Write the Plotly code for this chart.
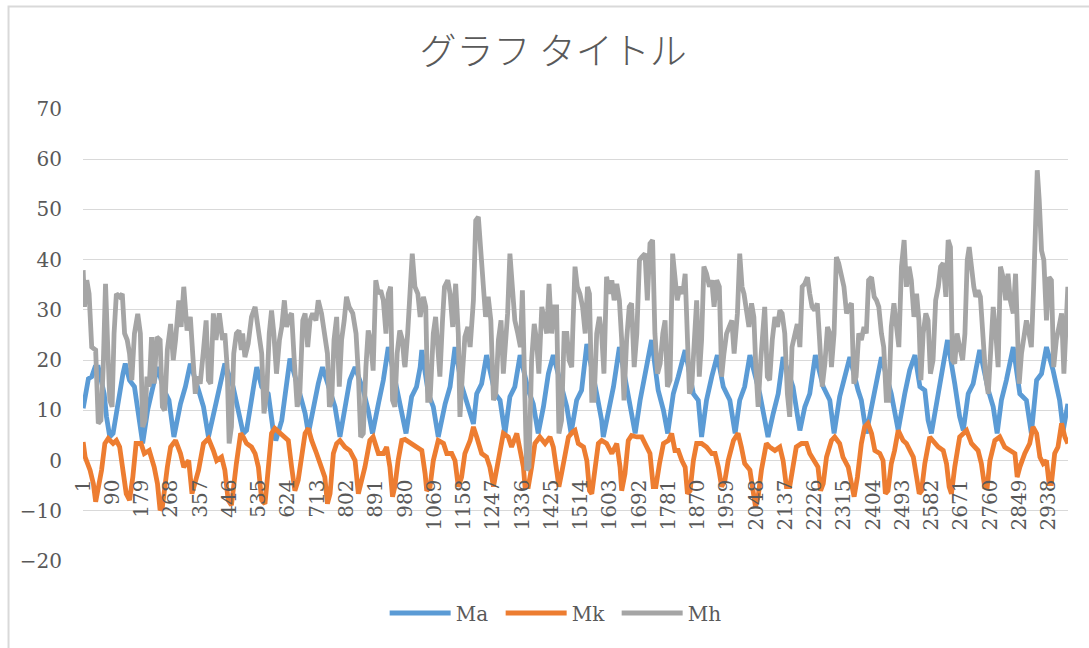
import plotly.graph_objects as go

# Series values as (row number, value) pairs
MA = [(1,10.4),(8,13),(17,16.3),(27,16.7),(37,18.6),(47,18.6),(65,13.3),(72,8.7),(82,4.7),(92,5.4),(102,9.4),(112,14.7),(122,17.3),(129,19.3),(142,16),(157,14.7),(172,8),(182,3.4),(197,10),(212,14),(227,18.6),(247,14),(262,12),(277,4.7),(297,11.3),(312,14.7),(327,19.3),(352,14),(367,10.7),(382,4.7),(402,10.7),(417,15.3),(432,19.3),(457,14.7),(472,10),
      (488,5.4),(498,6),(513,12),(524,16.7),(529,18.6),(544,14.7),(564,13.3),(579,6),(587,4),(605,8),(615,13.3),(625,18),(630,20.3),(660,13.3),(676,9.4),(686,5.4),(701,10.7),(716,15.3),(729,18.6),(752,14),(767,10.7),(782,4.7),(797,10.7),(812,16),(828,18.6),(853,14),(868,10),(881,5.4),(899,11.3),(914,16),(929,22.6),(954,14.7),(970,10),(983,5.4),
      (1000,12.7),(1015,14.7),(1026,18.6),(1031,22),(1051,13.3),(1066,10.7),(1081,4.7),(1102,11.3),(1117,14.7),(1132,22.6),(1152,15),(1167,12),(1188,7.3),(1198,13.3),(1213,15.3),(1228,21),(1254,13.3),(1269,12),(1284,5.4),(1299,12.7),(1314,14.7),(1330,21),(1355,14),(1370,11.3),(1385,5.4),(1401,10.7),(1416,17.3),(1431,21),(1456,14.7),(1472,10.7),(1485,5.4),
      (1502,12),(1517,14),(1533,23.2),(1563,13.3),(1578,8),(1583,4.7),(1599,9.4),(1614,14.7),(1632,22.6),(1659,13.3),(1669,10),(1680,5.4),(1695,12),(1715,18.6),(1730,24),(1750,14),(1766,10),(1779,5.4),(1796,13.3),(1811,16.7),(1832,22),(1857,13.3),(1872,12),(1882,4.7),(1897,12),(1913,16.7),(1930,21),(1948,14.7),(1968,12),(1984,5.4),
      (1998,12),(2013,14.7),(2029,21),(2059,13.3),(2074,8),(2084,4.7),(2100,9.4),(2115,13.3),(2130,20.6),(2160,14.7),(2176,8),(2181,6),(2196,10.7),(2211,13.3),(2228,21),(2252,14.7),(2272,12),(2285,5.4),(2302,12.7),(2317,16.7),(2333,20.6),(2358,14),(2368,12),(2383,5.4),(2399,10.7),(2414,16),(2429,20.6),(2459,13.3),(2469,9.4),(2480,6),
      (2500,13.3),(2515,18),(2531,21),(2546,14.7),(2561,14),(2571,8),(2581,5.4),(2596,10.7),(2612,17.3),(2630,24),(2652,15.3),(2667,8.7),(2678,6),(2693,13.3),(2708,15.3),(2728,22),(2754,14),(2769,10.7),(2781,5.4),(2794,12),(2809,16),(2830,22.6),(2850,13.3),(2870,12),(2885,5.4),(2901,16),(2916,17.3),(2931,22.6),(2951,18),(2971,12),(2982,6),(2996,11.3)]

MK = [(1,3.7),(7,0.7),(22,-1.9),(32,-4.6),(39,-8.2),(47,-5.2),(57,-1.9),(67,3.4),(77,4.4),(92,3.4),(102,4),(112,2.7),(122,-2.6),(132,-6.6),(142,-7.9),(152,-3.3),(162,3.4),(172,3.4),(177,3.4),(187,1.4),(202,2),(217,-1.3),(227,-4.6),(235,-9.9),(242,-9.2),(257,-1.3),(267,2.7),(282,4),(297,1.4),(307,-1.3),(322,0),(332,-6.6),(342,-3.9),(352,-1.9),(367,3.4),(382,4.4),(397,2),(407,0),(422,0.7),(432,-1.9),(442,-7.9),(452,-8.9),(467,-0.6),(477,4.7),
      (480,5.4),(488,4.7),(498,3.4),(513,2.7),(524,1.4),(534,-1.3),(544,-7.9),(554,-8.6),(564,-2.6),(574,5.4),(584,6.4),(600,5.4),(615,4.7),(625,4),(635,-1.3),(645,-6),(655,-3.9),(665,1.4),(676,5.4),(686,6.4),(696,4),(711,1.4),(726,-1.3),(736,-3.3),(744,-8.6),(752,-6.6),(762,1.4),(772,3.4),(782,4),(797,2.7),(812,2),(828,0),(838,-6.6),(848,-3.9),(858,-1.3),(873,4),(883,4.7),(899,1.4),(914,1.4),(924,2.7),(934,-1.3),(942,-7.2),(949,-5.2),(959,0),(970,4),(980,4.2),
      (1000,3.4),(1015,2.7),(1031,2),(1041,-2.6),(1046,-6),(1056,-5.2),(1066,0),(1081,4),(1097,3.4),(1107,1.4),(1122,1.4),(1132,0),(1142,-5.2),(1152,-3.3),(1162,1.4),(1178,4),(1188,6.7),(1198,4.7),(1213,1.4),(1228,0.7),(1238,-1.3),(1249,-5.2),(1259,-1.3),(1269,2.7),(1279,5.4),(1294,4.7),(1304,2.7),(1320,5.4),(1330,2),(1340,-1.3),(1345,-5.2),(1355,-5.2),(1365,-1.3),(1375,3.4),(1390,4.7),(1406,3.4),(1421,4.7),(1431,2.7),(1441,-1.9),(1448,-5.2),(1456,-2.6),(1466,1.4),(1477,4.7),
      (1490,5.7),(1497,6),(1507,3.4),(1523,2.7),(1533,0),(1541,-6),(1548,-6.6),(1558,-1.3),(1568,3.4),(1578,4),(1593,3.4),(1609,1.4),(1624,3.4),(1634,-1.3),(1639,-6),(1649,-2.6),(1659,4),(1669,5),(1685,4.7),(1700,4.7),(1710,3.4),(1725,1.4),(1735,-5.2),(1743,-5.2),(1754,-0.6),(1766,3.4),(1781,4),(1791,5.4),(1801,2),(1811,2),(1822,0),(1832,-1.3),(1839,-6.6),(1847,-6),(1857,0),(1867,3.4),(1882,3.4),(1897,2.7),(1913,1.4),(1923,1.4),(1933,-1.3),(1943,-5.2),(1953,-3.9),(1963,0),(1979,4),
      (1993,5.4),(2003,2.7),(2013,-0.6),(2029,-1.9),(2039,-6.6),(2046,-9.2),(2054,-7.2),(2064,-1.9),(2079,3.4),(2089,2.7),(2105,2),(2120,2.7),(2130,0),(2140,-5.2),(2150,-5.2),(2160,-1.3),(2170,2.7),(2186,3.4),(2201,3.4),(2211,1.4),(2226,0),(2236,-1.3),(2244,-6),(2252,-4.6),(2262,0.7),(2277,4),(2287,4.7),(2302,3.4),(2312,0.7),(2328,-1.3),(2338,-4.6),(2346,-7.2),(2356,-3.3),(2368,3.4),(2378,6.7),(2388,7.4),(2399,5.4),(2409,2),(2424,1.4),(2434,0),(2441,-6.6),(2449,-6),(2459,-0.6),(2469,2),(2480,6),
      (2495,4),(2505,3.4),(2515,2),(2526,0.7),(2536,-3.3),(2544,-6.6),(2551,-6),(2561,-0.6),(2576,4.7),(2586,4),(2602,2.7),(2617,2),(2627,-0.6),(2635,-5.2),(2642,-6.6),(2652,-1.3),(2667,4.7),(2688,6),(2703,3.4),(2713,2.7),(2723,2),(2733,-0.6),(2743,-5.2),(2751,-5.2),(2759,0),(2774,4),(2789,4.7),(2804,2.7),(2819,2),(2835,1.4),(2842,-3.3),(2850,-1.3),(2865,1.4),(2880,3.4),(2890,6.7),(2901,5.4),(2911,0.7),(2921,-0.6),(2931,0),(2939,-4.6),(2946,-4.6),(2956,1.4),(2966,2.7),(2977,7.4),(2987,4.7),(2996,3.4)]

MH = [(1,37.9),(5,30.6),(12,35.9),(19,33.2),(27,22.6),(39,22),(47,7.4),(55,8),(62,18.6),(69,35.2),(75,24),(82,12),(89,10.7),(95,25.3),(102,33.2),(112,32.6),(120,33.2),(127,25.3),(135,24),(142,21.3),(149,16),(157,25.3),(167,29.2),(175,25.3),(182,6.7),(189,8),(195,16.7),(202,14.7),(209,24.6),(217,15.3),(225,24.6),(235,24),(242,10.7),(249,10),(257,22),(267,27.2),(275,20),(282,24),(292,31.9),(299,26.6),(307,34.6),(317,25.9),(327,28.6),(335,17.9),(342,13.3),(349,16.7),(357,15.3),(367,22),(375,27.9),(382,16),(389,15.3),(397,29.3),(405,24),(415,29.3),(425,24),(432,25.3),(439,18.6),(445,3.4),(452,6.7),(459,21.3),(467,25.3),(475,25.9),
      (482,22),(486,25.3),(493,20.6),(503,23.3),(513,28.6),(524,30.6),(534,25.3),(544,21.3),(551,9.4),(559,13.3),(567,25.3),(574,29.9),(581,25.3),(589,17.3),(598,24),(605,26.6),(613,31.9),(620,26.6),(628,28.6),(635,29.3),(643,20),(652,10.7),(660,13.3),(669,27.9),(676,29.3),(684,22.6),(691,27.9),(699,29.3),(709,27.9),(716,31.9),(726,29.3),(736,24),(744,21.3),(750,10.7),(757,12),(764,24),(772,28.6),(780,14.7),(787,24),(795,27.9),(802,32.6),(810,30.6),(821,29.3),(831,25.3),(838,17.3),(845,4.7),(853,5.4),(861,18.6),(868,25.9),(875,24),(883,17.9),(891,35.9),(899,33.2),(906,33.9),(914,31.9),(922,25.3),(929,33.2),(936,34.6),(942,12),(949,10.7),(956,21.3),(964,25.9),(972,24),(978,19.3),
      (980,18.6),(988,25.3),(995,34.6),(1002,41.2),(1010,34.6),(1019,33.2),(1026,28.6),(1036,32.6),(1043,30.6),(1049,12),(1056,12),(1066,25.3),(1073,28.6),(1079,22.6),(1086,16.7),(1094,27.9),(1100,34.6),(1110,35.9),(1117,33.2),(1125,26.6),(1134,35.2),(1142,25.3),(1147,8.7),(1154,16.7),(1162,24.6),(1171,26.6),(1178,22.6),(1188,31.9),(1195,47.8),(1203,48.5),(1211,41.8),(1218,33.2),(1225,28.6),(1233,32.6),(1241,27.9),(1249,12),(1256,13.3),(1264,24),(1272,27.9),(1279,17.3),(1286,22.6),(1292,29.3),(1299,41.2),(1306,34.6),(1314,27.9),(1323,25.3),(1331,22.6),(1337,33.9),(1343,18.6),(1350,-1.9),(1357,-1.3),(1365,20),(1373,27.2),(1380,24),(1387,17.3),(1396,30.6),(1404,27.9),(1411,25.3),(1418,35.2),(1426,25.3),(1434,30.6),(1441,30.6),(1448,5.4),(1456,8),(1464,25.3),(1472,25.3),(1479,20),(1487,18.6),
      (1490,25.3),(1497,38.6),(1504,34.6),(1512,33.2),(1520,30.6),(1528,25.3),(1535,34.6),(1541,33.2),(1548,12),(1555,12),(1563,25.3),(1571,28.6),(1578,25.3),(1585,17.3),(1593,36.6),(1602,33.2),(1609,35.9),(1616,31.9),(1624,35.2),(1632,31.9),(1639,24),(1646,12),(1654,24),(1662,30.6),(1669,31.3),(1677,18.6),(1685,25.3),(1693,39.9),(1700,40.5),(1710,41.2),(1717,31.9),(1725,43.2),(1733,43.9),(1740,25.3),(1748,17.3),(1756,19.3),(1764,25.3),(1771,27.9),(1778,14.7),(1786,16),(1794,41.2),(1801,37.2),(1808,31.9),(1816,34.6),(1825,33.2),(1832,37.2),(1839,25.3),(1845,13.3),(1852,14.7),(1859,25.3),(1867,31.9),(1875,16.7),(1882,24),(1889,38.6),(1897,37.2),(1906,34.6),(1913,35.9),(1920,30.6),(1928,35.9),(1936,34.6),(1943,16.7),(1950,21.3),(1958,25.3),(1966,26.6),(1974,27.9),(1981,21.3),
      (1991,29.3),(1998,41.2),(2005,34.6),(2011,33.2),(2018,29.3),(2026,26.6),(2034,31.3),(2041,28.6),(2047,18.6),(2054,10.7),(2062,20),(2069,25.3),(2074,30.6),(2082,16.7),(2089,16),(2097,24),(2105,28.6),(2113,26.6),(2120,29.9),(2127,29.3),(2135,25.3),(2143,13.3),(2150,8.7),(2157,22.6),(2165,25.3),(2173,27.2),(2181,22.6),(2188,34.6),(2196,35.2),(2204,36.5),(2211,33.2),(2218,30.6),(2226,29.9),(2234,31.3),(2241,24),(2249,14.7),(2257,19.3),(2265,26.6),(2272,25.3),(2277,18.6),(2285,25.3),(2292,40.5),(2299,39.3),(2307,37.2),(2315,34.6),(2323,29.3),(2330,30.6),(2338,31.3),(2345,15.3),(2352,16.7),(2360,25.3),(2368,24),(2376,26.6),(2383,25.3),(2390,35.9),(2399,36.5),(2407,32.6),(2414,31.9),(2421,30.6),(2429,25.3),(2436,22.6),(2444,12),(2451,12),(2459,26.6),(2467,31.3),(2475,26.6),(2482,22.6),(2490,38.6),
      (2498,43.9),(2505,34.6),(2513,38.6),(2520,35.9),(2528,28.6),(2536,33.2),(2543,27.9),(2549,16),(2556,25.3),(2564,29.3),(2571,27.9),(2578,17.3),(2586,20),(2594,31.9),(2602,34.6),(2609,38.6),(2617,39.3),(2625,32.6),(2632,43.9),(2639,42.5),(2645,20),(2652,19.3),(2659,25.3),(2667,22.6),(2676,20),(2683,25.3),(2690,39.9),(2696,42.5),(2703,37.9),(2710,34.6),(2716,32.6),(2723,33.9),(2730,32.6),(2738,24),(2746,16.7),(2754,13.3),(2761,20),(2769,30.6),(2777,25.3),(2784,18.6),(2791,38.6),(2799,36.5),(2807,31.9),(2814,37.2),(2821,31.9),(2830,29.3),(2837,37.2),(2843,25.3),(2848,15.3),(2855,21.3),(2862,25.3),(2870,27.9),(2878,25.3),(2885,22.6),(2892,34.6),(2898,47.8),(2903,57.8),(2909,51.8),(2916,41.8),(2923,39.9),(2931,27.9),(2939,36.5),(2946,35.9),(2953,18.6),(2961,24),(2969,26.6),(2977,29.3),(2984,17.3),(2992,28.6),(2996,34.6)]

SERIES_NAMES = ["Ma", "Mk", "Mh"]
SERIES_COLORS = ["#5B9BD5", "#ED7D31", "#A5A5A5"]
N_ROWS = 2996

X_TICKS = ["1", "90", "179", "268", "357", "446", "535", "624", "713", "802", "891",
           "980", "1069", "1158", "1247", "1336", "1425", "1514", "1603", "1692",
           "1781", "1870", "1959", "2048", "2137", "2226", "2315", "2404", "2493",
           "2582", "2671", "2760", "2849", "2938"]
Y_TICKS = [-20, -10, 0, 10, 20, 30, 40, 50, 60, 70]

TEXT = "#595959"
GRID = "#D9D9D9"
SERIF = "DejaVu Serif"

fig = go.Figure()
for name, color, data in zip(SERIES_NAMES, SERIES_COLORS, [MA, MK, MH]):
    xs, ys = zip(*data)
    fig.add_trace(go.Scatter(x=list(xs), y=list(ys), mode="lines", name=name,
                             line=dict(color=color, width=4.8)))

y_min, y_max = Y_TICKS[0], Y_TICKS[-1]

fig.update_layout(
    width=1089, height=648,
    margin=dict(l=83, r=21, t=109, b=87, autoexpand=False),
    paper_bgcolor="white", plot_bgcolor="white",
    title=dict(text="グラフ タイトル", xref="container", x=0.508, xanchor="center",
               yref="container", y=0.92, yanchor="middle",
               font=dict(family="Noto Sans CJK JP", size=37, color=TEXT, weight=300)),
    showlegend=True,
    legend=dict(orientation="h", xref="container", x=0.513, xanchor="center",
                yref="container", y=0.054, yanchor="middle",
                font=dict(family=SERIF, size=20, color=TEXT),
                entrywidth=40, entrywidthmode="pixels", itemwidth=61,
                bgcolor="rgba(0,0,0,0)"),
    xaxis=dict(type="linear", range=[0.5, N_ROWS + 0.5],
               tickvals=[int(t) for t in X_TICKS], ticktext=X_TICKS,
               tickangle=-90, ticks="", showgrid=False, zeroline=False, showline=False,
               anchor="free", position=(0 - y_min) / (y_max - y_min),
               ticklabelstandoff=14,
               tickfont=dict(family=SERIF, size=20, color=TEXT)),
    yaxis=dict(range=[y_min, y_max], tickvals=Y_TICKS, ticks="",
               showgrid=True, gridcolor=GRID, gridwidth=1.3,
               zeroline=False, showline=False, ticklabelstandoff=20,
               tickfont=dict(family=SERIF, size=20, color=TEXT)),
    shapes=[dict(type="rect", xref="paper", yref="paper",
                 x0=-0.0756, x1=1.03, y0=-0.21, y1=1.2268,
                 line=dict(color=GRID, width=2), layer="below")],
)

fig.write_html("out.html")
